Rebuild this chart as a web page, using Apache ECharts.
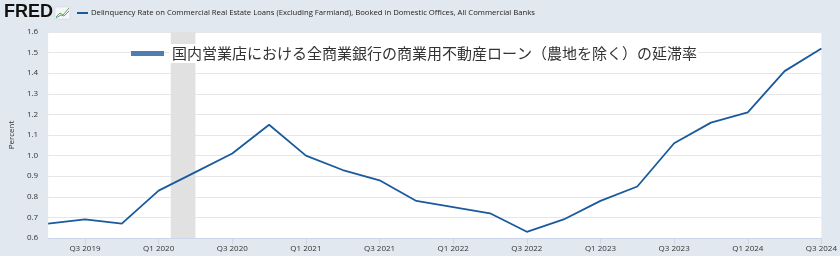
<!DOCTYPE html>
<html><head><meta charset="utf-8">
<script src="https://cdn.jsdelivr.net/npm/echarts@6/dist/echarts.min.js"></script>
<style>html,body{margin:0;padding:0;background:#e1e8f0}#c{width:840px;height:256px}</style>
</head><body><div id="c"></div>
<script>
var quarters = ['Q2 2019','Q3 2019','Q4 2019','Q1 2020','Q2 2020','Q3 2020','Q4 2020','Q1 2021','Q2 2021','Q3 2021','Q4 2021','Q1 2022','Q2 2022','Q3 2022','Q4 2022','Q1 2023','Q2 2023','Q3 2023','Q4 2023','Q1 2024','Q2 2024','Q3 2024'];
var rates = [0.67,0.69,0.67,0.83,0.92,1.01,1.15,1.00,0.93,0.88,0.78,0.75,0.72,0.63,0.69,0.78,0.85,1.06,1.16,1.21,1.41,1.52];
var seriesName = '国内営業店における全商業銀行の商業用不動産ローン（農地を除く）の延滞率';
var headerTitle = 'Delinquency Rate on Commercial Real Estate Loans (Excluding Farmland), Booked in Domestic Offices, All Commercial Banks';
var recession = [3.33, 4.0]; // quarter-index positions: Feb 2020 – Apr 2020
var yTicks = {min: 0.6, max: 1.6, step: 0.1};

var chart = echarts.init(document.getElementById('c'), null, {renderer: 'canvas'});
var lbl = '#333';
var fontUI = '"Open Sans", "Noto Sans", sans-serif';
chart.setOption({
  backgroundColor: '#e1e8f0',
  animation: false,
  grid: {left: 48, right: 13, top: 32, bottom: 18, show: true, backgroundColor: '#ffffff', borderWidth: 0},
  legend: {
    data: [seriesName], left: 131, top: 44, padding: 0, icon: 'rect', itemWidth: 33, itemHeight: 5, itemGap: 0,
    itemStyle: {color: '#4d7eb2'},
    textStyle: {fontSize: 15, color: '#333', fontFamily: '"Noto Sans CJK JP", sans-serif', backgroundColor: '#ffffff', padding: [2, 1, 2, 3]},
    selectedMode: false
  },
  xAxis: [{
    type: 'category', data: quarters, boundaryGap: false,
    axisLine: {lineStyle: {color: '#ccd6eb'}},
    axisTick: {show: true, length: 6, lineStyle: {color: '#ccd6eb'}, interval: function(i){return i % 2 === 1;}},
    axisLabel: {interval: function(i){return i % 2 === 1;}, color: lbl, fontSize: 8, fontFamily: fontUI, margin: 7},
    splitLine: {show: false}
  }, {
    type: 'value', min: 0, max: quarters.length - 1, show: false
  }],
  yAxis: {
    type: 'value', min: yTicks.min, max: yTicks.max, interval: yTicks.step,
    name: 'Percent', nameLocation: 'middle', nameGap: 31, nameRotate: 90,
    nameTextStyle: {fontSize: 8, color: lbl, fontFamily: fontUI},
    axisLine: {show: false}, axisTick: {show: false},
    axisLabel: {color: lbl, fontSize: 8, fontFamily: fontUI, margin: 10, formatter: function(v){return v.toFixed(1);}},
    splitLine: {lineStyle: {color: '#e6e6e6', width: 1}}
  },
  graphic: [
    {type: 'text', left: 4, top: 3, style: {text: 'FRED', font: '900 18px "Liberation Sans", Arial, sans-serif', fill: '#111'}},
    {type: 'rect', shape: {x: 55, y: 7, width: 15, height: 12}, style: {fill: '#f4f7fa', stroke: '#c8d3de', lineWidth: 0.5}},
    {type: 'polyline', shape: {points: [[56,17],[60,13],[63,15],[69,8]]}, style: {stroke: '#6aa84f', lineWidth: 1, fill: null}},
    {type: 'polyline', shape: {points: [[56,18],[61,15],[64,16],[69,11]]}, style: {stroke: '#6c8ebf', lineWidth: 1, fill: null}},
    {type: 'line', shape: {x1: 77, y1: 13, x2: 88, y2: 13}, style: {stroke: '#1a5a9c', lineWidth: 2}},
    {type: 'text', left: 91, top: 9, style: {text: headerTitle, font: '7.7px ' + fontUI, fill: '#222'}}
  ],
  series: [{
    name: seriesName, type: 'line', data: rates, symbol: 'none',
    lineStyle: {color: '#1a5a9c', width: 1.8}, itemStyle: {color: '#1a5a9c'}, z: 3
  }, {
    name: 'recession', type: 'line', xAxisIndex: 1, data: [[0, yTicks.min], [quarters.length - 1, yTicks.min]],
    symbol: 'none', lineStyle: {opacity: 0}, silent: true, z: 1,
    markArea: {silent: true, itemStyle: {color: '#e1e1e1'}, data: [[{xAxis: recession[0]}, {xAxis: recession[1]}]]}
  }]
});
</script></body></html>
